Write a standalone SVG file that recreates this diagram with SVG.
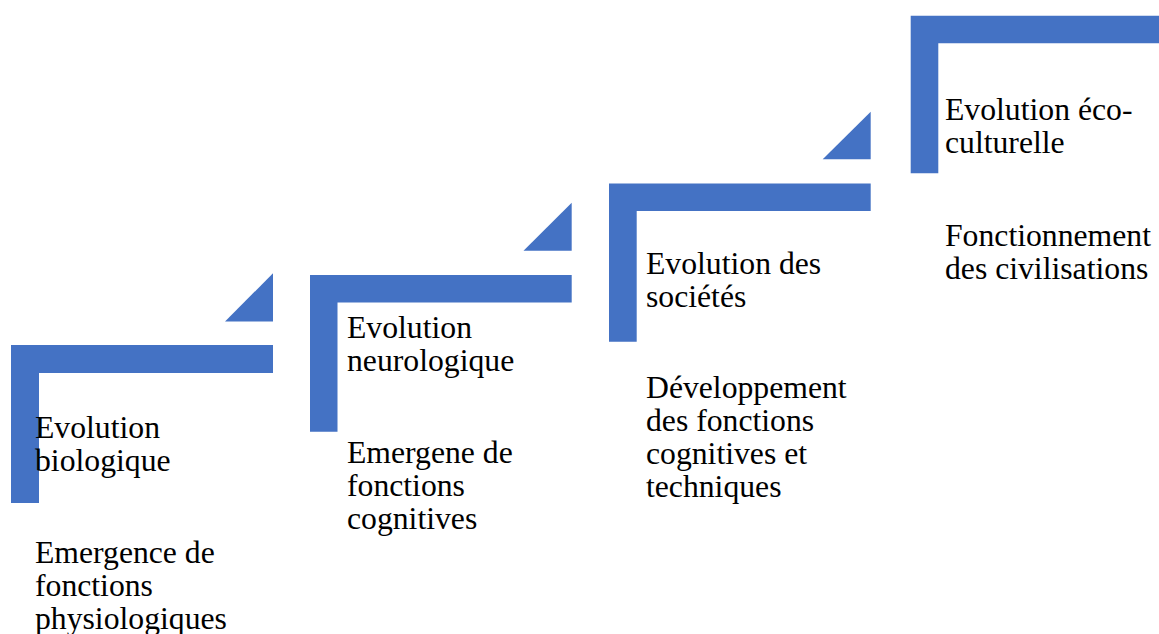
<svg xmlns="http://www.w3.org/2000/svg" width="1159" height="634" viewBox="0 0 1159 634">
<style>
.s{fill:#4472C4}
</style>
<rect width="1159" height="634" fill="#fff"/>
<g id="step1">
<path class="s" d="M11,345 H273 V373 H39 V503 H11 Z"/>
<path class="s" d="M225,321.5 H273 V273.3 Z"/>
<text x="35" y="438" font-family="Liberation Serif" font-size="31.7"><tspan x="35">Evolution</tspan><tspan x="35" dy="33">biologique</tspan></text>
<text x="35" y="563" font-family="Liberation Serif" font-size="31.7"><tspan x="35">Emergence de</tspan><tspan x="35" dy="33">fonctions</tspan><tspan x="35" dy="33">physiologiques</tspan></text>
</g>
<g id="step2">
<path class="s" d="M310,275 H571.7 V302.5 H337.5 V431.7 H310 Z"/>
<path class="s" d="M523.5,250.7 H571.7 V202.7 Z"/>
<text x="347" y="338" font-family="Liberation Serif" font-size="31.7"><tspan x="347">Evolution</tspan><tspan x="347" dy="33">neurologique</tspan></text>
<text x="347" y="463" font-family="Liberation Serif" font-size="31.7"><tspan x="347">Emergene de</tspan><tspan x="347" dy="33">fonctions</tspan><tspan x="347" dy="33">cognitives</tspan></text>
</g>
<g id="step3">
<path class="s" d="M609,183.5 H870.7 V211 H636.7 V341.7 H609 Z"/>
<path class="s" d="M822.7,159.3 H870.7 V111.7 Z"/>
<text x="646" y="274" font-family="Liberation Serif" font-size="31.7"><tspan x="646">Evolution des</tspan><tspan x="646" dy="33">sociétés</tspan></text>
<text x="646" y="398" font-family="Liberation Serif" font-size="31.7"><tspan x="646">Développement</tspan><tspan x="646" dy="33">des fonctions</tspan><tspan x="646" dy="33">cognitives et</tspan><tspan x="646" dy="33">techniques</tspan></text>
</g>
<g id="step4">
<path class="s" d="M910.7,15.7 H1159 V43.3 H938.3 V173.3 H910.7 Z"/>
<text x="945" y="120" font-family="Liberation Serif" font-size="31.7"><tspan x="945">Evolution éco-</tspan><tspan x="945" dy="33">culturelle</tspan></text>
<text x="945" y="246" font-family="Liberation Serif" font-size="31.7"><tspan x="945">Fonctionnement</tspan><tspan x="945" dy="33">des civilisations</tspan></text>
</g>
<g id="connectors"/>
</svg>
